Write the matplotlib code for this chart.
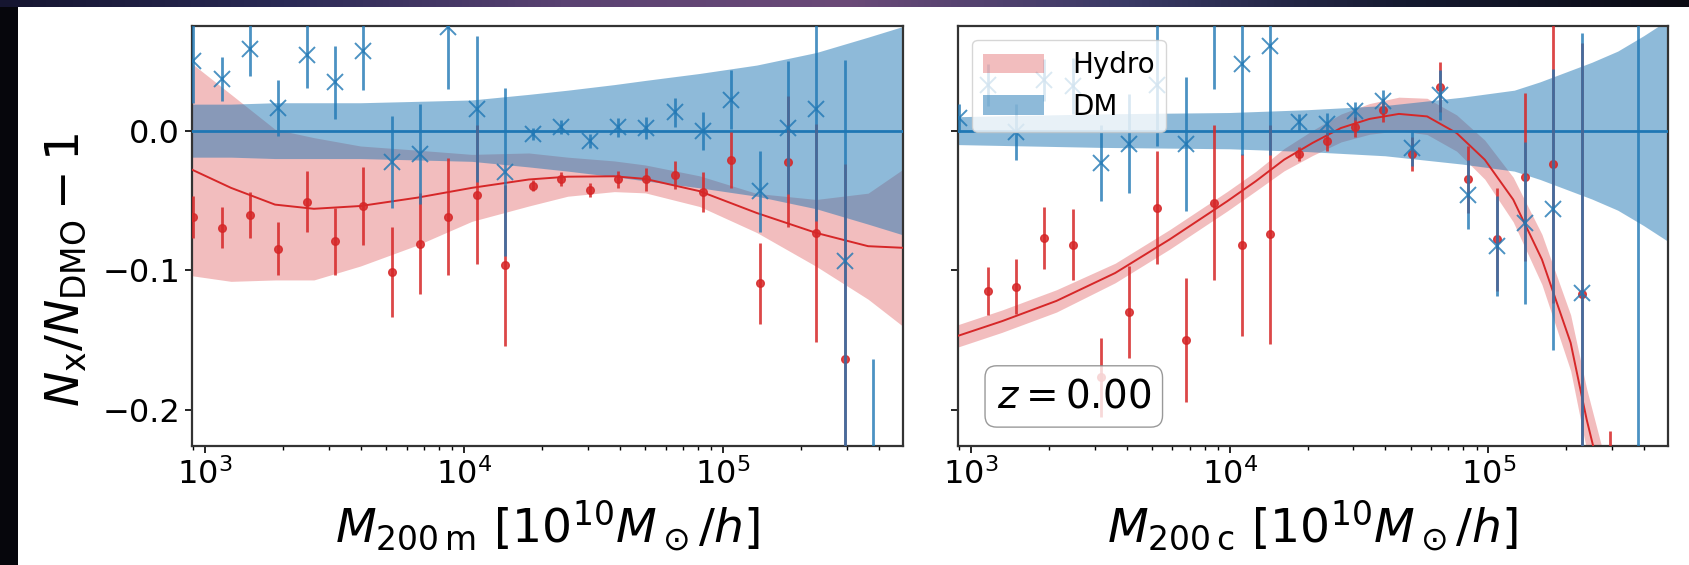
import numpy as np
import matplotlib
matplotlib.use("Agg")
import matplotlib.pyplot as plt
from matplotlib.patches import Rectangle
from matplotlib.colors import LinearSegmentedColormap

nan = np.nan

# halo mass bins (same for both panels), 10^10 Msun/h
mass = [901, 1159, 1489, 1919, 2466, 3170, 4083, 5248, 6745, 8690,
        11170, 14355, 18450, 23770, 30550, 39260, 50580, 65010, 83560,
        107600, 138400, 177800, 229100, 294400, 378400]

# left panel: M200m
hydro_200m = [-0.062, -0.0697, -0.0604, -0.0847, -0.0508, -0.0792, -0.0542, -0.1014,
              -0.0809, -0.0618, -0.0458, -0.0966, -0.0394, -0.0344, -0.0422, -0.035,
              -0.035, -0.0315, -0.0441, -0.0212, -0.1095, -0.0224, -0.0733, -0.164, nan]
hydro_200m_err = [0.015, 0.0147, 0.0165, 0.019, 0.022, 0.024, 0.028, 0.032, 0.0365,
                  0.042, 0.05, 0.058, 0.004, 0.005, 0.005, 0.006, 0.008, 0.01, 0.0143,
                  0.02, 0.029, 0.047, 0.078, 0.14, nan]
dm_200m = [0.05, 0.037, 0.0585, 0.0162, 0.0544, 0.0346, 0.0568, -0.0227, -0.0167,
           0.0745, 0.0155, -0.0296, -0.0024, 0.0024, -0.0077, 0.0024, 0.002, 0.0131,
           -0.0005, 0.0222, -0.0434, 0.002, 0.0155, -0.0935, -0.40]
dm_200m_err = [0.03, 0.0155, 0.019, 0.020, 0.024, 0.026, 0.028, 0.033, 0.036, 0.045,
               0.052, 0.060, 0.004, 0.005, 0.005, 0.007, 0.008, 0.0105, 0.0137, 0.021,
               0.029, 0.0477, 0.08, 0.144, 0.236]

fit_mass_200m = [891, 1259, 1862, 2630, 3981, 6607, 10715, 17783, 25119, 38019,
                 50119, 81283, 134896, 229087, 363078, 501187]
hydro_fit_200m = [-0.028, -0.041, -0.053, -0.056, -0.054, -0.048, -0.041, -0.035,
                  -0.033, -0.0327, -0.0346, -0.0434, -0.059, -0.0733, -0.0828, -0.084]
hydro_sig_200m = [0.076, 0.067, 0.054, 0.051, 0.043, 0.034, 0.024, 0.019, 0.014,
                  0.011, 0.010, 0.011, 0.014, 0.024, 0.038, 0.057]
dm_sig_200m = [0.019, 0.019, 0.020, 0.020, 0.020, 0.021, 0.022, 0.026, 0.029, 0.033,
               0.036, 0.041, 0.047, 0.056, 0.067, 0.075]

# right panel: M200c
hydro_200c = [nan, -0.115, -0.112, -0.0768, -0.0816, -0.1766, -0.130, -0.0553, -0.150,
              -0.0518, -0.082, -0.0744, -0.0167, -0.0077, 0.0026, 0.0145, -0.0167,
              0.0313, -0.035, -0.078, -0.0331, -0.0236, -0.117, -0.27, nan]
hydro_200c_err = [nan, 0.017, 0.0197, 0.022, 0.0257, 0.0283, 0.0328, 0.0406, 0.0447,
                  0.0555, 0.065, 0.0783, 0.005, 0.007, 0.007, 0.008, 0.012, 0.018,
                  0.024, 0.037, 0.06, 0.1, 0.18, 0.055, nan]
dm_200c = [0.009, 0.033, -0.001, 0.036, 0.032, -0.0232, -0.0093, 0.033, -0.0093, 0.085,
           0.0477, 0.0604, 0.006, 0.0048, 0.0138, 0.021, -0.0124, 0.0258, -0.0458,
           -0.0828, -0.066, -0.0565, -0.116, nan, 0.095]
dm_200c_err = [0.01, 0.015, 0.02, 0.015, 0.02, 0.0275, 0.0354, 0.044, 0.048, 0.055,
               0.065, 0.078, 0.006, 0.008, 0.0065, 0.008, 0.013, 0.018, 0.025, 0.036,
               0.058, 0.101, 0.186, nan, 0.35]

fit_mass_200c = [891, 1318, 2138, 3606, 5848, 9772, 12589, 16218, 20893, 26915,
                 34674, 45082, 57943, 75336, 96828, 124738, 161065, 207970, 239883,
                 281838]
hydro_fit_200c = [-0.147, -0.1365, -0.122, -0.102, -0.078, -0.0506, -0.0363, -0.0208,
                  -0.0088, 0.0019, 0.0084, 0.012, 0.0102, -0.0017, -0.0208, -0.0494,
                  -0.0923, -0.152, -0.207, -0.26]
hydro_sig_200c = [0.008, 0.008, 0.008, 0.007, 0.007, 0.007, 0.007, 0.008, 0.009, 0.010,
                  0.011, 0.012, 0.013, 0.013, 0.014, 0.016, 0.018, 0.020, 0.022, 0.025]
dm_mass_200c = [891, 3162, 10000, 19953, 39811, 79433, 125893, 158489, 199526, 251189,
                316228, 398107, 501187]
dm_sig_200c = [0.010, 0.012, 0.013, 0.015, 0.018, 0.024, 0.029, 0.035, 0.042, 0.049,
               0.057, 0.068, 0.08]

RED = "#d62728"
BLUE = "#1f77b4"


def draw_panel(ax, fit_m, fit, fit_sig, dm_m, dm_sig, hydro, hydro_err, dm, dm_err):
    fit = np.array(fit)
    fit_sig = np.array(fit_sig)
    dm_sig = np.array(dm_sig)
    h_red = ax.fill_between(fit_m, fit - fit_sig, fit + fit_sig, color=RED,
                            alpha=0.3, lw=0, zorder=1)
    ax.plot(fit_m, fit, color=RED, lw=1.4, zorder=3)
    h_blue = ax.fill_between(dm_m, -dm_sig, dm_sig, color=BLUE, alpha=0.5,
                             lw=0, zorder=2)
    ax.axhline(0.0, color=BLUE, lw=2.0, zorder=3)
    ax.errorbar(mass, hydro, yerr=hydro_err, fmt="o", color=RED, ms=5.5,
                elinewidth=2.0, alpha=0.85, zorder=4)
    ax.errorbar(mass, dm, yerr=dm_err, fmt="x", color=BLUE, ms=11, mew=1.4,
                elinewidth=2.0, alpha=0.8, zorder=5)
    ax.set_xscale("log")
    ax.set_xlim(890, 4.95e5)
    ax.set_ylim(-0.226, 0.075)
    ax.set_yticks([-0.2, -0.1, 0.0])
    ax.tick_params(axis="both", which="major", labelsize=23, length=5, width=1.2)
    ax.tick_params(axis="both", which="minor", length=3, width=1.0)
    for s in ax.spines.values():
        s.set_color("#333333")
        s.set_linewidth(1.6)
    return h_red, h_blue


fig = plt.figure(figsize=(16.9, 5.65), dpi=100)
fig.patch.set_facecolor("#06060c")
fig.patches.append(Rectangle((18 / 1690, 0), 1, 1 - 7 / 565, transform=fig.transFigure,
                             facecolor="white", edgecolor="none", zorder=-10))
# dark nebula strip along the top
top = fig.add_axes([0, 1 - 7 / 565, 1, 7 / 565])
cmap = LinearSegmentedColormap.from_list(
    "sky", ["#151530", "#2a2a55", "#5a4272", "#6b4a78", "#3a3a66", "#151a30", "#0b0b14"])
top.imshow(np.linspace(0, 1, 256)[None, :], aspect="auto", cmap=cmap)
top.set_axis_off()

ax1 = fig.add_axes([0.1136, 0.2106, 0.4207, 0.7434])
ax2 = fig.add_axes([0.5669, 0.2106, 0.4201, 0.7434], sharey=ax1)

draw_panel(ax1, fit_mass_200m, hydro_fit_200m, hydro_sig_200m, fit_mass_200m,
           dm_sig_200m, hydro_200m, hydro_200m_err, dm_200m, dm_200m_err)
h_red, h_blue = draw_panel(ax2, fit_mass_200c, hydro_fit_200c, hydro_sig_200c,
                           dm_mass_200c, dm_sig_200c, hydro_200c, hydro_200c_err,
                           dm_200c, dm_200c_err)
plt.setp(ax2.get_yticklabels(), visible=False)

ax1.set_ylabel(r"$N_{\rm x}/N_{\rm DMO}-1$", fontsize=34)
ax1.yaxis.set_label_coords(-0.145, 0.42)
ax1.set_xlabel(r"$M_{200\,{\rm m}}\ [10^{10}M_\odot/h]$", fontsize=34, labelpad=6)
ax2.set_xlabel(r"$M_{200\,{\rm c}}\ [10^{10}M_\odot/h]$", fontsize=34, labelpad=6)

leg = ax2.legend([h_red, h_blue], ["Hydro", "DM"], loc="upper left", fontsize=20,
                 handlelength=2.2, handletextpad=1.0, framealpha=0.8)
leg.set_zorder(10)
ax2.text(0.163, 0.118, r"$z = 0.00$", transform=ax2.transAxes, fontsize=28,
         ha="center", va="center", zorder=10,
         bbox=dict(boxstyle="round,pad=0.3", facecolor="white", edgecolor="0.5",
                   alpha=0.8))

fig.savefig("out.png", dpi=100, facecolor=fig.get_facecolor())
